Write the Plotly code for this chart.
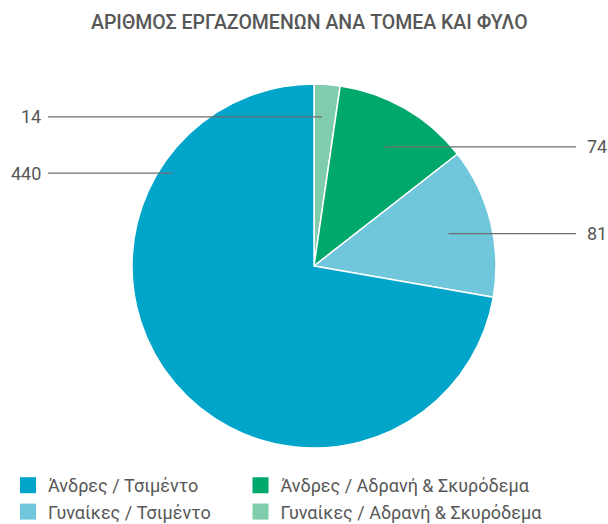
import math
import plotly.graph_objects as go

# ---- data ----
categories = ["Άνδρες / Τσιμέντο", "Γυναίκες / Τσιμέντο",
              "Άνδρες / Αδρανή & Σκυρόδεμα", "Γυναίκες / Αδρανή & Σκυρόδεμα"]
values = [440, 81, 74, 14]
colors = ["#00A5C9", "#70C7DC", "#00A86B", "#80CDAE"]
legend_groups = ["legend", "legend", "legend2", "legend2"]
legend_order = [0, 1, 2, 3]
title = "ΑΡΙΘΜΟΣ ΕΡΓΑΖΟΜΕΝΩΝ ΑΝΑ ΤΟΜΕΑ ΚΑΙ ΦΥΛΟ"

# ---- layout / style constants (figure pixels) ----
W, H = 608, 524
CX, CY, R = 314, 266, 182
# leader anchor per slice: (label side, fraction along slice going
# counter-clockwise, fraction of radius)
leader_pos = [("left", 0.218, 0.93), ("right", 0.49, 0.76),
              ("right", 0.49, 0.76), ("left", 0.63, 0.82)]
LEFT_TEXT_X, LEFT_LINE_X = 43, 48
RIGHT_TEXT_X, RIGHT_LINE_X = 585, 576
TEXT_COLOR = "#575757"
LINE_COLOR = "#6E6E6E"
FONT = "Roboto, 'Open Sans', sans-serif"


def px(x):
    return x / W


def py(y):
    return 1 - y / H


fig = go.Figure()
# slices drawn clockwise from 12 o'clock in reverse order, so that the
# first category runs counter-clockwise from the top
fig.add_trace(go.Pie(
    labels=categories[::-1], values=values[::-1], sort=False,
    direction="clockwise", rotation=0,
    marker=dict(colors=colors[::-1], line=dict(color="white", width=1.5)),
    textinfo="none", showlegend=False, hoverinfo="label+value",
    domain=dict(x=[px(CX - R), px(CX + R)], y=[py(CY + R), py(CY - R)]),
))

# legend entries (two legend columns)
for i in legend_order:
    fig.add_trace(go.Scatter(
        x=[None], y=[None], mode="markers", name=categories[i],
        marker=dict(symbol="square", size=16, color=colors[i]),
        showlegend=True, hoverinfo="skip", legend=legend_groups[i],
    ))

# leader lines and value labels computed from slice angles
total = sum(values)
shapes, annotations = [], []
cum = 0.0
for i, v in enumerate(values):
    start = cum / total * 360.0
    end = (cum + v) / total * 360.0
    cum += v
    side, fa, fr = leader_pos[i]
    ang_ccw = start + fa * (end - start)     # counter-clockwise from top
    theta = math.radians(ang_ccw)
    ax = CX - fr * R * math.sin(theta)
    ay = CY - fr * R * math.cos(theta)
    if side == "left":
        x0, tx, anchor = LEFT_LINE_X, LEFT_TEXT_X, "right"
    else:
        x0, tx, anchor = RIGHT_LINE_X, RIGHT_TEXT_X, "left"
    shapes.append(dict(type="line", xref="paper", yref="paper",
                       x0=px(x0), x1=px(ax), y0=py(ay), y1=py(ay),
                       line=dict(color=LINE_COLOR, width=1.3)))
    annotations.append(dict(xref="paper", yref="paper", x=px(tx), y=py(ay),
                            text=str(v), showarrow=False, xanchor=anchor,
                            yanchor="middle",
                            font=dict(size=18, color=TEXT_COLOR, family=FONT)))

annotations.append(dict(xref="paper", yref="paper", x=px(310), y=py(22),
                        text=title, showarrow=False, xanchor="center",
                        yanchor="middle",
                        font=dict(size=19.5, color=TEXT_COLOR, family=FONT,
                                  weight=500)))

legend_style = dict(orientation="v", xanchor="left", yanchor="top",
                    font=dict(size=18, color=TEXT_COLOR, family=FONT),
                    bgcolor="rgba(0,0,0,0)", itemwidth=30, tracegroupgap=0)

fig.update_layout(
    width=W, height=H,
    margin=dict(l=0, r=0, t=0, b=0, pad=0, autoexpand=False),
    paper_bgcolor="white", plot_bgcolor="white",
    xaxis=dict(visible=False), yaxis=dict(visible=False),
    shapes=shapes, annotations=annotations,
    legend=dict(x=px(8), y=py(467), **legend_style),
    legend2=dict(x=px(240.5), y=py(467), **legend_style),
    font=dict(family=FONT, color=TEXT_COLOR),
)

fig.write_html("out.html",
               config={"displayModeBar": False},
               post_script="document.body.style.margin='0';"
                           "document.documentElement.style.overflow='hidden';")
